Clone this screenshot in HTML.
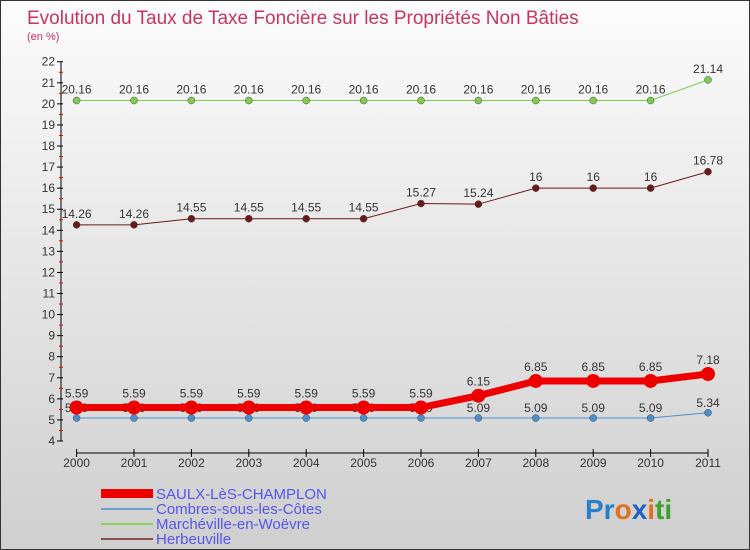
<!DOCTYPE html>
<html><head><meta charset="utf-8"><style>
body{margin:0}
#c{width:750px;height:550px;position:relative;overflow:hidden;font-family:"Liberation Sans",sans-serif;background:linear-gradient(#fcfcfc,#cfcfcf);box-sizing:border-box;border:1px solid #333}
</style></head><body>
<div id="c">
<svg id="s" width="750" height="550" style="position:absolute;left:0;top:0">
<text x="26" y="23" font-size="19" fill="#c8365f">Evolution du Taux de Taxe Foncière sur les Propriétés Non Bâties</text>
<text x="26" y="39" font-size="11" fill="#c8365f">(en %)</text>
<g id="g"></g>
<g>
<rect x="100" y="488" width="52" height="9" fill="#e00"/>
<text x="155" y="498" font-size="15" fill="#5555ee">SAULX-LèS-CHAMPLON</text>
<line x1="100" y1="508" x2="152" y2="508" stroke="#6aa0d0" stroke-width="2"/>
<text x="155" y="513" font-size="15" fill="#5555ee">Combres-sous-les-Côtes</text>
<line x1="100" y1="523" x2="152" y2="523" stroke="#8ed060" stroke-width="2"/>
<text x="155" y="528" font-size="15" fill="#5555ee">Marchéville-en-Woëvre</text>
<line x1="100" y1="538" x2="152" y2="538" stroke="#8a5050" stroke-width="2"/>
<text x="155" y="543" font-size="15" fill="#5555ee">Herbeuville</text>
</g>
<text x="584" y="518" font-size="28" font-weight="bold"><tspan fill="#2a80c8">Pr</tspan><tspan fill="#e07020">o</tspan><tspan fill="#2060c0">x</tspan><tspan fill="#e07020">i</tspan><tspan fill="#40a030">ti</tspan></text>
</svg>
</div>
<script>
const years=[2000,2001,2002,2003,2004,2005,2006,2007,2008,2009,2010,2011];
const saulx=[5.59,5.59,5.59,5.59,5.59,5.59,5.59,6.15,6.85,6.85,6.85,7.18];
const combres=[5.09,5.09,5.09,5.09,5.09,5.09,5.09,5.09,5.09,5.09,5.09,5.34];
const marcheville=[20.16,20.16,20.16,20.16,20.16,20.16,20.16,20.16,20.16,20.16,20.16,21.14];
const herbeuville=[14.26,14.26,14.55,14.55,14.55,14.55,15.27,15.24,16,16,16,16.78];
const yTicks=[4,5,6,7,8,9,10,11,12,13,14,15,16,17,18,19,20,21,22];
const NS="http://www.w3.org/2000/svg",g=document.getElementById('g');
const X=i=>75.6+i*57.4, Y=v=>440-(v-4)*21.07;
function el(t,a,name){const e=document.createElementNS(NS,t);for(const k in a)e.setAttribute(k,a[k]);


g.appendChild(e);return e;}
el('line',{x1:60,y1:Y(22),x2:60,y2:Y(4),stroke:'#000'},'y-axis');
yTicks.forEach(t=>{el('line',{x1:56,x2:62,y1:Y(t),y2:Y(t),stroke:'#000'},'y-tick');
if(t<22)el('line',{x1:58,x2:62,y1:Y(t+0.5),y2:Y(t+0.5),stroke:'#e00'},'y-minor-tick');
const tx=el('text',{x:54,y:Y(t)+4,'font-size':12,fill:'#333','text-anchor':'end'},'y-tick-label');tx.textContent=t;});
el('line',{x1:X(0),x2:X(11),y1:452,y2:452,stroke:'#000'},'x-axis');
years.forEach((y,i)=>{el('line',{x1:X(i),x2:X(i),y1:448,y2:456,stroke:'#000'},'x-tick');
const tx=el('text',{x:X(i),y:466,'font-size':12,fill:'#333','text-anchor':'middle'},'x-tick-label');tx.textContent=y;});
function series(d,col,w,r,name,dy){
el('polyline',{points:d.map((v,i)=>X(i)+','+Y(v)).join(' '),fill:'none',stroke:col,'stroke-width':w},name+'-line');
d.forEach((v,i)=>{el('circle',{cx:X(i),cy:Y(v),r:r,fill:col,stroke:'#444','stroke-width':r>5?0:0.5},name+'-point');
const tx=el('text',{x:X(i),y:Y(v)+dy,'font-size':12,fill:'#333','text-anchor':'middle'},name+'-value-label');tx.textContent=v;});}
series(combres,'#4a90d0',1,3.5,'combres',-6);
series(marcheville,'#80cc50',1,3.5,'marcheville',-7);
series(herbeuville,'#6a1a1a',1,3.5,'herbeuville',-7);
series(saulx,'#ee0000',7,7,'saulx',-10);
</script>
</body></html>
